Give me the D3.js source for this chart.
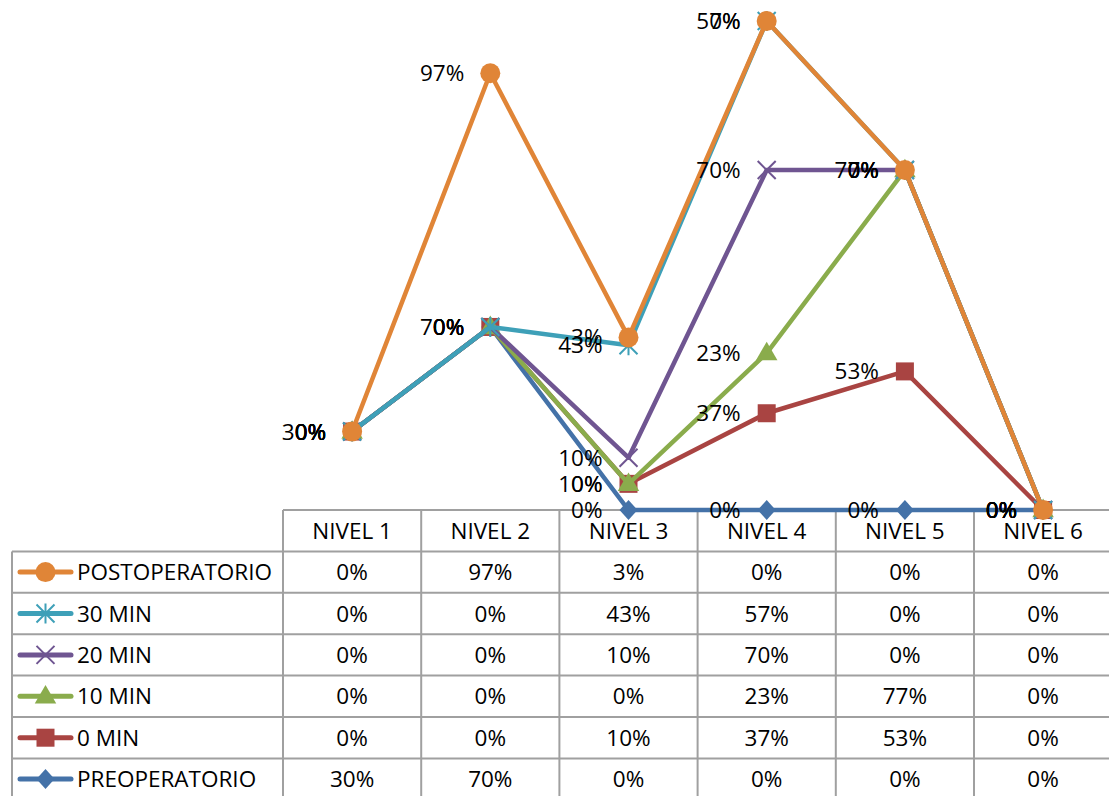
<!doctype html>
<html>
<head>
<meta charset="utf-8">
<script src="https://cdn.jsdelivr.net/npm/d3@7"></script>
<style>
  body { margin: 0; background: #fff; }
  svg { display: block; font-family: "Open Sans", sans-serif; }
</style>
</head>
<body>
<div id="chart"></div>
<script>
// categories and the individual series values (percent)
const categories = ["NIVEL 1", "NIVEL 2", "NIVEL 3", "NIVEL 4", "NIVEL 5", "NIVEL 6"];
const seriesNames = ["PREOPERATORIO", "0 MIN", "10 MIN", "20 MIN", "30 MIN", "POSTOPERATORIO"];
const preoperatorio = [30, 70, 0, 0, 0, 0];
const min0 = [0, 0, 10, 37, 53, 0];
const min10 = [0, 0, 0, 23, 77, 0];
const min20 = [0, 0, 10, 70, 0, 0];
const min30 = [0, 0, 43, 57, 0, 0];
const postoperatorio = [0, 97, 3, 0, 0, 0];
const seriesValues = [preoperatorio, min0, min10, min20, min30, postoperatorio];
const colors = ["#4472a8", "#a94442", "#8aac4c", "#6f5591", "#3ea0b8", "#e08537"];
const markers = ["diamond", "square", "triangle", "x", "asterisk", "circle"];

const width = 1109, height = 796;
const tableLeft = 12, colLeft = 283, colW = 138.2;
const headTop = 510, rowH = 41.4;
const fontSize = 22.5, baseShift = 8;

// table of rows for the stack
const rows = categories.map(function (c, i) {
  const r = { cat: c };
  seriesNames.forEach(function (s, j) { r[s] = seriesValues[j][i]; });
  return r;
});
const stacked = d3.stack().keys(seriesNames)(rows);

const x = d3.scaleBand().domain(categories).range([colLeft, colLeft + colW * categories.length]);
const y = d3.scaleLinear().domain([0, 200]).range([headTop, headTop - 523]);
const cx = function (c) { return x(c) + x.bandwidth() / 2; };

const svg = d3.select("#chart").append("svg")
  .attr("width", width)
  .attr("height", height);

function drawMarker(g, type, color, px, py) {
  if (type === "circle") {
    g.append("circle").attr("cx", px).attr("cy", py).attr("r", 10).attr("fill", color);
  } else if (type === "square") {
    g.append("rect").attr("x", px - 9).attr("y", py - 9).attr("width", 18).attr("height", 18).attr("fill", color);
  } else if (type === "triangle") {
    g.append("path").attr("d", d3.symbol(d3.symbolTriangle, 200)()).attr("transform", "translate(" + px + "," + (py + 1) + ")").attr("fill", color);
  } else if (type === "diamond") {
    g.append("path").attr("d", "M0,-10L9,0L0,10L-9,0Z").attr("transform", "translate(" + px + "," + py + ")").attr("fill", color);
  } else if (type === "x") {
    g.append("path").attr("d", "M-9,-9L9,9M-9,9L9,-9").attr("transform", "translate(" + px + "," + py + ")")
      .attr("stroke", color).attr("stroke-width", 2).attr("fill", "none");
  } else if (type === "asterisk") {
    g.append("path").attr("d", "M-9,-9L9,9M-9,9L9,-9M0,-10L0,10").attr("transform", "translate(" + px + "," + py + ")")
      .attr("stroke", color).attr("stroke-width", 2).attr("fill", "none");
  }
}

// table grid
const grid = svg.append("g").attr("stroke", "#a0a0a0").attr("stroke-width", 2);
const tableRight = colLeft + colW * categories.length;
const nRows = seriesNames.length;
grid.append("line").attr("x1", colLeft).attr("x2", tableRight).attr("y1", headTop).attr("y2", headTop);
for (let r = 0; r <= nRows; r++) {
  const yy = headTop + rowH * (r + 1);
  grid.append("line").attr("x1", tableLeft).attr("x2", tableRight).attr("y1", yy).attr("y2", yy);
}
grid.append("line").attr("x1", tableLeft).attr("x2", tableLeft).attr("y1", headTop + rowH).attr("y2", height + 5);
for (let c = 0; c <= categories.length; c++) {
  const xx = colLeft + colW * c;
  grid.append("line").attr("x1", xx).attr("x2", xx).attr("y1", headTop).attr("y2", height + 5);
}

// header
svg.append("g").selectAll("text")
  .data(categories)
  .enter().append("text")
  .attr("x", cx)
  .attr("y", headTop + rowH / 2 + baseShift)
  .attr("text-anchor", "middle")
  .attr("font-size", fontSize)
  .text(String);

// table body: legend order reversed (POSTOPERATORIO first)
const tableOrder = d3.range(nRows).reverse();
tableOrder.forEach(function (si, r) {
  const rowMid = headTop + rowH * (r + 1) + rowH / 2;
  const g = svg.append("g");
  g.append("line").attr("x1", 20).attr("x2", 71).attr("y1", rowMid).attr("y2", rowMid)
    .attr("stroke", colors[si]).attr("stroke-width", 5).attr("stroke-linecap", "round");
  drawMarker(g, markers[si], colors[si], 45.5, rowMid);
  g.append("text").attr("x", 77).attr("y", rowMid + baseShift).attr("font-size", fontSize).text(seriesNames[si]);
  g.selectAll("text.val")
    .data(seriesValues[si])
    .enter().append("text")
    .attr("class", "val")
    .attr("x", function (d, i) { return cx(categories[i]); })
    .attr("y", rowMid + baseShift)
    .attr("text-anchor", "middle")
    .attr("font-size", fontSize)
    .text(function (d) { return d + "%"; });
});

// lines and markers
const line = d3.line()
  .x(function (d) { return cx(d.data.cat); })
  .y(function (d) { return y(d[1]); });

stacked.forEach(function (s, si) {
  const g = svg.append("g");
  g.append("path")
    .datum(s)
    .attr("d", line)
    .attr("fill", "none")
    .attr("stroke", colors[si])
    .attr("stroke-width", 4.5)
    .attr("stroke-linejoin", "round");
  s.forEach(function (d) {
    drawMarker(g, markers[si], colors[si], cx(d.data.cat), y(d[1]));
  });
});

// data labels, left of each point
stacked.forEach(function (s, si) {
  svg.append("g").selectAll("text")
    .data(s)
    .enter().append("text")
    .attr("x", function (d) { return cx(d.data.cat) - 26; })
    .attr("y", function (d) { return y(d[1]) + baseShift; })
    .attr("text-anchor", "end")
    .attr("font-size", fontSize)
    .text(function (d, i) { return seriesValues[si][i] + "%"; });
});
</script>
</body>
</html>
